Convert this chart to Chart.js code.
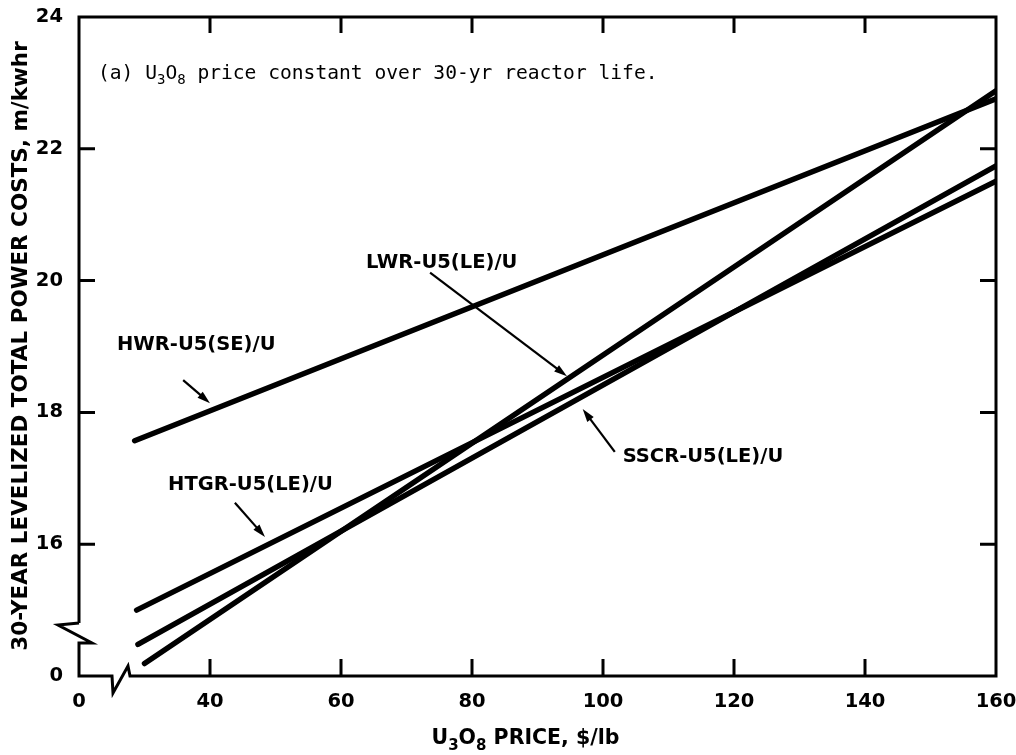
<!DOCTYPE html>
<html lang="en">
<head>
    <meta charset="UTF-8">
    <title>30-year levelized total power costs vs U3O8 price</title>
    <style>
        body {
            margin: 0;
            padding: 0;
            background: #fff;
        }

        .chart-box {
            width: 1016px;
            height: 755px;
        }
    </style>
</head>
<body>
    <div class="chart-box">
        <canvas id="costChart" width="1016" height="755"></canvas>
    </div>
    <script src="https://cdn.jsdelivr.net/npm/chart.js"></script>
    <script>
        // axis ticks (lowest tick on each axis is shown as "0" past the break)
        const priceTicks = [20, 40, 60, 80, 100, 120, 140, 160];
        const costTicks = [14, 16, 18, 20, 22, 24];

        // reactor concepts, each a straight line from its start to $160/lb
        const reactors = ['HWR-U5(SE)/U', 'LWR-U5(LE)/U', 'HTGR-U5(LE)/U', 'SSCR-U5(LE)/U'];
        const hwrPrice = [28.5, 160];
        const hwrCost = [17.57, 22.76];
        const lwrPrice = [30, 160];
        const lwrCost = [14.19, 22.88];
        const htgrPrice = [28.8, 160];
        const htgrCost = [15.0, 21.51];
        const sscrPrice = [29, 160];
        const sscrCost = [14.48, 21.74];

        // label anchors and arrow (from -> to) in data units
        const labelAt = [[25.8, 19.02], [63.8, 20.27], [33.6, 16.9], [103.0, 17.32]];
        const arrowFrom = [[35.9, 18.49], [73.6, 20.12], [43.8, 16.63], [101.8, 17.40]];
        const arrowTo = [[40.0, 18.14], [94.5, 18.55], [48.4, 16.11], [96.9, 18.05]];

        function toPoints(xs, ys) {
            return xs.map((x, i) => ({ x: x, y: ys[i] }));
        }

        const lineSets = [
            toPoints(hwrPrice, hwrCost),
            toPoints(lwrPrice, lwrCost),
            toPoints(htgrPrice, htgrCost),
            toPoints(sscrPrice, sscrCost)
        ];

        const labelFont = 'bold 19.5px "DejaVu Sans", sans-serif';

        // text with subscripts: parts are [text, isSub]
        function drawParts(ctx, parts, x, y, size, family, weight) {
            let cx = x;
            parts.forEach(p => {
                const sub = p[1];
                ctx.font = weight + ' ' + (sub ? Math.round(size * 0.72) : size) + 'px ' + family;
                ctx.fillText(p[0], cx, sub ? y + size * 0.28 : y);
                cx += ctx.measureText(p[0]).width;
            });
            return cx - x;
        }

        function partsWidth(ctx, parts, size, family, weight) {
            let w = 0;
            parts.forEach(p => {
                ctx.font = weight + ' ' + (p[1] ? Math.round(size * 0.72) : size) + 'px ' + family;
                w += ctx.measureText(p[0]).width;
            });
            return w;
        }

        function arrow(ctx, x1, y1, x2, y2) {
            const ang = Math.atan2(y2 - y1, x2 - x1);
            const len = 13, half = 4;
            ctx.beginPath();
            ctx.moveTo(x1, y1);
            ctx.lineTo(x2 - Math.cos(ang) * len * 0.8, y2 - Math.sin(ang) * len * 0.8);
            ctx.lineWidth = 2.2;
            ctx.stroke();
            ctx.beginPath();
            ctx.moveTo(x2, y2);
            ctx.lineTo(x2 - Math.cos(ang) * len - Math.sin(ang) * half, y2 - Math.sin(ang) * len + Math.cos(ang) * half);
            ctx.lineTo(x2 - Math.cos(ang) * len + Math.sin(ang) * half, y2 - Math.sin(ang) * len - Math.cos(ang) * half);
            ctx.closePath();
            ctx.fill();
        }

        const frame = {
            id: 'frame',
            afterDraw(chart) {
                const ctx = chart.ctx;
                const a = chart.chartArea;
                const xs = chart.scales.x, ys = chart.scales.y;
                const L = a.left, R = a.right, T = a.top, B = a.bottom;
                ctx.save();
                ctx.strokeStyle = '#000';
                ctx.fillStyle = '#000';
                ctx.lineJoin = 'miter';

                // border with broken axes
                ctx.lineWidth = 3;
                ctx.beginPath();
                ctx.moveTo(L, B - 53);
                ctx.lineTo(L, T);
                ctx.lineTo(R, T);
                ctx.lineTo(R, B);
                ctx.lineTo(L + 51, B);
                ctx.lineTo(L + 49, B - 10);
                ctx.lineTo(L + 34, B + 17);
                ctx.lineTo(L + 33, B);
                ctx.lineTo(L, B);
                ctx.lineTo(L, B - 33);
                ctx.lineTo(L + 13, B - 33);
                ctx.lineTo(L - 21, B - 51);
                ctx.lineTo(L, B - 53);
                ctx.stroke();

                // inward tick marks on all sides
                ctx.lineWidth = 3;
                ctx.beginPath();
                priceTicks.slice(1, -1).forEach(v => {
                    const px = xs.getPixelForValue(v);
                    ctx.moveTo(px, B); ctx.lineTo(px, B - 17);
                    ctx.moveTo(px, T); ctx.lineTo(px, T + 16);
                });
                costTicks.slice(1, -1).forEach(v => {
                    const py = ys.getPixelForValue(v);
                    ctx.moveTo(L, py); ctx.lineTo(L + 16, py);
                    ctx.moveTo(R, py); ctx.lineTo(R - 16, py);
                });
                ctx.stroke();

                // curve labels with arrows
                ctx.textBaseline = 'middle';
                ctx.textAlign = 'left';
                ctx.font = labelFont;
                reactors.forEach((name, i) => {
                    ctx.fillText(name, xs.getPixelForValue(labelAt[i][0]), ys.getPixelForValue(labelAt[i][1]));
                    arrow(ctx,
                        xs.getPixelForValue(arrowFrom[i][0]), ys.getPixelForValue(arrowFrom[i][1]),
                        xs.getPixelForValue(arrowTo[i][0]), ys.getPixelForValue(arrowTo[i][1]));
                });

                // panel note
                ctx.textBaseline = 'alphabetic';
                drawParts(ctx, [['(a) U', false], ['3', true], ['O', false], ['8', true],
                    [' price constant over 30-yr reactor life.', false]],
                    L + 19, T + 62, 19.6, '"DejaVu Sans Mono", monospace', 'normal');

                // x axis title
                const xParts = [['U', false], ['3', true], ['O', false], ['8', true], [' PRICE, $/lb', false]];
                const fam = '"DejaVu Sans", sans-serif';
                const w = partsWidth(ctx, xParts, 20.5, fam, 'bold');
                drawParts(ctx, xParts, (L + R) / 2 - w / 2 - 12, 744, 20.5, fam, 'bold');

                // y axis title
                ctx.translate(21, 346);
                ctx.rotate(-Math.PI / 2);
                ctx.textAlign = 'center';
                ctx.textBaseline = 'middle';
                ctx.font = 'bold 21.5px "DejaVu Sans", sans-serif';
                ctx.fillText('30-YEAR LEVELIZED TOTAL POWER COSTS, m/kwhr', 0, 0);
                ctx.restore();
            }
        };

        new Chart(document.getElementById('costChart').getContext('2d'), {
            type: 'scatter',
            data: {
                datasets: reactors.map((name, i) => ({
                    label: name,
                    data: lineSets[i],
                    showLine: true,
                    borderColor: '#000',
                    backgroundColor: '#000',
                    borderWidth: 5.5,
                    borderCapStyle: 'round',
                    pointRadius: 0
                }))
            },
            options: {
                responsive: false,
                animation: false,
                layout: { padding: { top: 17, right: 20, left: 0, bottom: 0 } },
                plugins: {
                    legend: { display: false },
                    tooltip: { enabled: false }
                },
                scales: {
                    x: {
                        type: 'linear',
                        min: 20,
                        max: 160,
                        afterBuildTicks: s => { s.ticks = priceTicks.map(v => ({ value: v })); },
                        afterFit: s => { s.height = 79; s.paddingLeft = 0; s.paddingRight = 0; },
                        grid: { display: false },
                        border: { display: false },
                        ticks: {
                            padding: 6,
                            color: '#000',
                            font: { family: '"DejaVu Sans", sans-serif', size: 19.5, weight: 'bold' },
                            callback: v => (v === 20 ? '0' : v)
                        }
                    },
                    y: {
                        type: 'linear',
                        min: 14,
                        max: 24,
                        afterBuildTicks: s => { s.ticks = costTicks.map(v => ({ value: v })); },
                        afterFit: s => { s.width = 79; s.paddingTop = 0; s.paddingBottom = 0; },
                        grid: { display: false },
                        border: { display: false },
                        ticks: {
                            padding: 8,
                            color: '#000',
                            font: { family: '"DejaVu Sans", sans-serif', size: 19.5, weight: 'bold' },
                            callback: v => (v === 14 ? '0' : v)
                        }
                    }
                }
            },
            plugins: [frame]
        });
    </script>
</body>
</html>
